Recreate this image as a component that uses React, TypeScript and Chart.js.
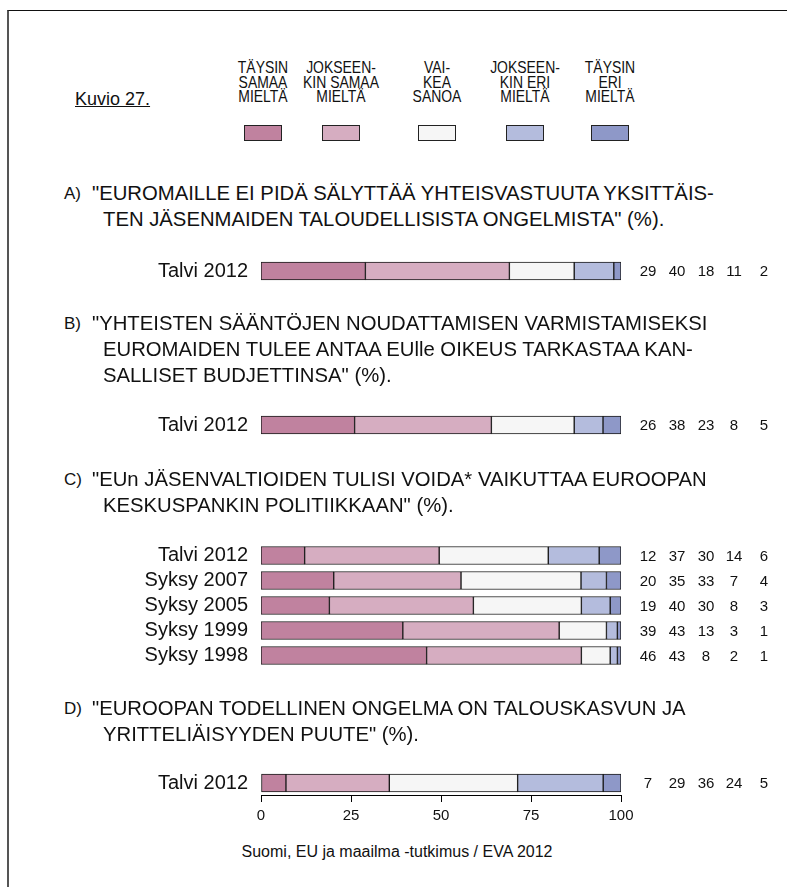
import React, { useEffect, useRef } from 'react';
import { Chart, registerables } from 'chart.js';

Chart.register(...registerables);

// ---------- data ----------
const seriesLabels = [
  'TÄYSIN SAMAA MIELTÄ',
  'JOKSEENKIN SAMAA MIELTÄ',
  'VAIKEA SANOA',
  'JOKSEENKIN ERI MIELTÄ',
  'TÄYSIN ERI MIELTÄ',
];
const legendLines = [
  ['TÄYSIN', 'SAMAA', 'MIELTÄ'],
  ['JOKSEEN-', 'KIN SAMAA', 'MIELTÄ'],
  ['VAI-', 'KEA', 'SANOA'],
  ['JOKSEEN-', 'KIN ERI', 'MIELTÄ'],
  ['TÄYSIN', 'ERI', 'MIELTÄ'],
];
const seriesColors = ['#c0829f', '#d6adc1', '#f6f6f6', '#b4bcdd', '#8e98c8'];

const categoriesA = ['Talvi 2012'];
const valuesA = [[29, 40, 18, 11, 2]];

const categoriesB = ['Talvi 2012'];
const valuesB = [[26, 38, 23, 8, 5]];

const categoriesC = ['Talvi 2012', 'Syksy 2007', 'Syksy 2005', 'Syksy 1999', 'Syksy 1998'];
const valuesC = [
  [12, 37, 30, 14, 6],
  [20, 35, 33, 7, 4],
  [19, 40, 30, 8, 3],
  [39, 43, 13, 3, 1],
  [46, 43, 8, 2, 1],
];

const categoriesD = ['Talvi 2012'];
const valuesD = [[7, 29, 36, 24, 5]];

const xTickValues = [0, 25, 50, 75, 100];

const questionA = ['"EUROMAILLE EI PIDÄ SÄLYTTÄÄ YHTEISVASTUUTA YKSITTÄIS-', 'TEN JÄSENMAIDEN TALOUDELLISISTA ONGELMISTA" (%).'];
const questionB = [
  '"YHTEISTEN SÄÄNTÖJEN NOUDATTAMISEN VARMISTAMISEKSI',
  'EUROMAIDEN TULEE ANTAA EUlle OIKEUS TARKASTAA KAN-',
  'SALLISET BUDJETTINSA" (%).',
];
const questionC = ['"EUn JÄSENVALTIOIDEN TULISI VOIDA* VAIKUTTAA EUROOPAN', 'KESKUSPANKIN POLITIIKKAAN" (%).'];
const questionD = ['"EUROOPAN TODELLINEN ONGELMA ON TALOUSKASVUN JA', 'YRITTELIÄISYYDEN PUUTE" (%).'];

const figureTitle = 'Kuvio 27.';
const sourceText = 'Suomi, EU ja maailma -tutkimus / EVA 2012';

// ---------- layout ----------
const FONT = '"Liberation Sans", Arial, Helvetica, sans-serif';
const PAGE_W = 787;
const PLOT_LEFT = 261;
const PLOT_RIGHT = 621;
const PAD_V = 28;
const ROW_AREA = 24;
const ROW_STEP = 25;
const AXIS_H = 36;
const valueColumnsX = [648, 677, 706, 734, 764];
const legendCentersX = [263, 341, 437, 525, 610];

type BlockProps = {
  categories: string[];
  rows: number[][];
  center: number; // y of first row centre
  showAxis?: boolean;
};

function BarBlock({ categories, rows, center, showAxis }: BlockProps) {
  const ref = useRef<HTMLCanvasElement>(null);
  const n = categories.length;
  const area = n === 1 ? ROW_AREA : n * ROW_STEP;
  const top = center - (n === 1 ? ROW_AREA / 2 : ROW_STEP / 2) - PAD_V;
  const height = area + PAD_V + (showAxis ? AXIS_H : PAD_V);
  useEffect(() => {
    if (!ref.current) return;
    const datasets = seriesLabels.map((label, s) => ({
      label,
      data: rows.map((r) => (r[s] / r.reduce((a, b) => a + b, 0)) * 100),
      backgroundColor: seriesColors[s],
      borderColor: '#1a1a1a',
      borderWidth: 1,
      borderSkipped: false as const,
      barThickness: 18,
    }));
    const numbersPlugin = {
      id: 'rowNumbers',
      afterDraw(chart: any) {
        const ctx = chart.ctx;
        const y = chart.scales.y;
        ctx.save();
        ctx.fillStyle = '#111';
        ctx.font = `15px ${FONT}`;
        ctx.textAlign = 'center';
        ctx.textBaseline = 'middle';
        rows.forEach((r, i) => {
          const py = y.getPixelForValue(i);
          r.forEach((v, j) => ctx.fillText(String(v), valueColumnsX[j], py + 1));
        });
        ctx.restore();
      },
    };
    const chart = new Chart(ref.current, {
      type: 'bar',
      data: { labels: categories, datasets },
      options: {
        indexAxis: 'y',
        animation: false,
        responsive: false,
        maintainAspectRatio: false,
        layout: {
          padding: { left: 0, right: PAGE_W - PLOT_RIGHT, top: PAD_V, bottom: showAxis ? 0 : PAD_V },
        },
        plugins: { legend: { display: false }, tooltip: { enabled: false } },
        scales: {
          x: {
            stacked: true,
            min: 0,
            max: 100,
            display: !!showAxis,
            afterFit(s: any) {
              if (showAxis) s.height = AXIS_H;
            },
            afterBuildTicks(s: any) {
              s.ticks = xTickValues.map((v) => ({ value: v }));
            },
            grid: {
              display: true,
              drawOnChartArea: false,
              drawTicks: true,
              tickLength: 7,
              color: '#000',
              lineWidth: 1,
            },
            border: { display: true, color: '#000', width: 1 },
            ticks: { color: '#111', font: { family: FONT, size: 15 }, padding: 5, maxRotation: 0 },
          },
          y: {
            stacked: true,
            afterFit(s: any) {
              s.width = PLOT_LEFT;
            },
            grid: { display: false, drawTicks: false },
            border: { display: false },
            ticks: { color: '#111', font: { family: FONT, size: 20 }, padding: 13, autoSkip: false },
          },
        },
      },
      plugins: [numbersPlugin],
    });
    return () => chart.destroy();
  }, []);
  return (
    <canvas
      ref={ref}
      width={PAGE_W}
      height={height}
      style={{ position: 'absolute', left: 0, top, width: PAGE_W, height }}
    />
  );
}

function Question({ letter, lines, top }: { letter: string; lines: string[]; top: number }) {
  const lh = 26;
  return (
    <>
      <div
        style={{
          position: 'absolute',
          left: 64,
          top: top - lh / 2 + 1,
          fontSize: 17,
          lineHeight: `${lh}px`,
          color: '#111',
          whiteSpace: 'nowrap',
        }}
      >
        {letter}
      </div>
      {lines.map((l, i) => (
        <div
          key={i}
          style={{
            position: 'absolute',
            left: i === 0 ? 92 : 103,
            top: top + i * lh - lh / 2,
            fontSize: 20.3,
            lineHeight: `${lh}px`,
            color: '#111',
            whiteSpace: 'nowrap',
          }}
        >
          {l}
        </div>
      ))}
    </>
  );
}

export default function App() {
  return (
    <div
      style={{
        position: 'fixed',
        left: 0,
        top: 0,
        width: PAGE_W,
        height: 887,
        background: '#fff',
        fontFamily: FONT,
        overflow: 'hidden',
      }}
    >
      <div
        style={{
          position: 'absolute',
          left: 7,
          top: 10,
          width: 800,
          height: 900,
          borderTop: '1px solid #111',
          borderLeft: '2px solid #555',
        }}
      />
      <div
        style={{
          position: 'absolute',
          left: 75,
          top: 89,
          fontSize: 18,
          lineHeight: '20px',
          textDecoration: 'underline',
          color: '#111',
        }}
      >
        {figureTitle}
      </div>
      {legendLines.map((lines, i) => (
        <div key={i}>
          <div
            style={{
              position: 'absolute',
              left: legendCentersX[i] - 60,
              width: 120,
              top: 61,
              textAlign: 'center',
              fontSize: 17,
              lineHeight: '14.5px',
              color: '#111',
              transform: 'scaleX(0.82)',
            }}
          >
            {lines.map((l, k) => (
              <div key={k}>{l}</div>
            ))}
          </div>
          <div
            style={{
              position: 'absolute',
              left: legendCentersX[i] - 19,
              top: 125,
              width: 36,
              height: 14,
              background: seriesColors[i],
              border: '1px solid #222',
            }}
          />
        </div>
      ))}

      <Question letter="A)" lines={questionA} top={193} />
      <BarBlock categories={categoriesA} rows={valuesA} center={271} />

      <Question letter="B)" lines={questionB} top={323} />
      <BarBlock categories={categoriesB} rows={valuesB} center={425} />

      <Question letter="C)" lines={questionC} top={479} />
      <BarBlock categories={categoriesC} rows={valuesC} center={555} />

      <Question letter="D)" lines={questionD} top={708} />
      <BarBlock categories={categoriesD} rows={valuesD} center={783} showAxis />

      <div
        style={{
          position: 'absolute',
          left: 197,
          width: 400,
          top: 843,
          textAlign: 'center',
          fontSize: 16,
          lineHeight: '18px',
          color: '#111',
          whiteSpace: 'nowrap',
        }}
      >
        {sourceText}
      </div>
    </div>
  );
}
